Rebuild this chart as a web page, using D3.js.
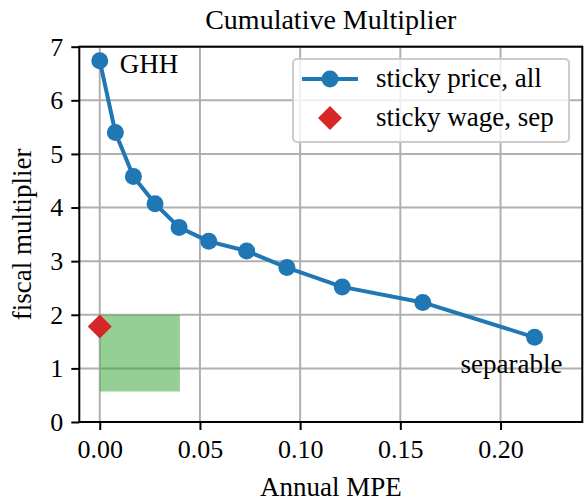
<!DOCTYPE html>
<html><head><meta charset="utf-8">
<script src="https://cdn.jsdelivr.net/npm/d3@7"></script>
<style>
html,body{margin:0;padding:0;background:#fff;}
svg text{font-family:"Liberation Serif","DejaVu Serif",serif;fill:#000;}
</style></head>
<body><svg id="c" width="588" height="501"></svg>
<script>
// Data
const mpe = [0.0, 0.0078, 0.0168, 0.0276, 0.0396, 0.0544, 0.0733, 0.0934, 0.1210, 0.1612, 0.2170];
const multiplier = [6.74, 5.40, 4.58, 4.07, 3.63, 3.37, 3.19, 2.88, 2.52, 2.23, 1.58];
const wageMpe = [0.0];
const wageMult = [1.78];
const regionX = [0.0, 0.04];
const regionY = [0.57, 2.0];
const xTicks = [0.00, 0.05, 0.10, 0.15, 0.20];
const yTicks = [0, 1, 2, 3, 4, 5, 6, 7];
const legendLabels = ["sticky price, all", "sticky wage, sep"];
const annotations = ["GHH", "separable"];

const FS = 27, TFS = 26;
const svg = d3.select("#c");
const L = 79.3, R = 582.3, T = 46.7, B = 422;
const x = d3.scaleLinear().domain([-0.0102, 0.2408]).range([L, R]);
const y = d3.scaleLinear().domain([0, 7]).range([B, T]);

// grid
const g = svg.append("g");
g.selectAll(".gx").data(xTicks).join("line")
  .attr("x1", d=>x(d)).attr("x2", d=>x(d)).attr("y1", T).attr("y2", B)
  .attr("stroke", "#b0b0b0").attr("stroke-width", 2);
g.selectAll(".gy").data(yTicks).join("line")
  .attr("y1", d=>y(d)).attr("y2", d=>y(d)).attr("x1", L).attr("x2", R)
  .attr("stroke", "#b0b0b0").attr("stroke-width", 2);

// green region
svg.append("rect")
  .attr("x", x(regionX[0])).attr("width", x(regionX[1]) - x(regionX[0]))
  .attr("y", y(regionY[1])).attr("height", y(regionY[0]) - y(regionY[1]))
  .attr("fill", "#2ca02c").attr("fill-opacity", 0.5);

// line
const pts = mpe.map((d,i)=>[d, multiplier[i]]);
svg.append("path").datum(pts)
  .attr("d", d3.line().x(d=>x(d[0])).y(d=>y(d[1])))
  .attr("fill", "none").attr("stroke", "#1f77b4").attr("stroke-width", 4)
  .attr("stroke-linejoin", "round");
svg.selectAll(".pt").data(pts).join("circle")
  .attr("cx", d=>x(d[0])).attr("cy", d=>y(d[1])).attr("r", 8.5)
  .attr("fill", "#1f77b4");

// diamond
const diamond = s => `M0,${-s}L${s},0L0,${s}L${-s},0Z`;
svg.selectAll(".dm").data(wageMpe).join("path")
  .attr("transform", (d,i)=>`translate(${x(d)},${y(wageMult[i])})`)
  .attr("d", diamond(12)).attr("fill", "#d62728");

// annotations
svg.append("text").attr("x", x(mpe[0]) + 20).attr("y", y(multiplier[0]) + 12)
  .attr("font-size", FS).text(annotations[0]);
svg.append("text").attr("x", x(mpe[10]) - 74).attr("y", y(multiplier[10]) + 36)
  .attr("font-size", FS).text(annotations[1]);

// spines
svg.append("rect").attr("x", L).attr("y", T).attr("width", R-L).attr("height", B-T)
  .attr("fill", "none").attr("stroke", "#000").attr("stroke-width", 2);

// axes
const xa = svg.append("g").attr("transform", `translate(0,${B})`)
  .call(d3.axisBottom(x).tickValues(xTicks).tickFormat(d3.format(".2f")).tickSize(8).tickPadding(10));
const ya = svg.append("g").attr("transform", `translate(${L},0)`)
  .call(d3.axisLeft(y).tickValues(yTicks).tickFormat(d3.format("d")).tickSize(8).tickPadding(8));
[xa, ya].forEach(a => {
  a.select(".domain").remove();
  a.selectAll("line").attr("stroke", "#000").attr("stroke-width", 2);
  a.selectAll("text").attr("font-size", TFS).attr("font-family", "Liberation Serif");
});

// labels
svg.append("text").attr("x", (L+R)/2).attr("y", 29).attr("text-anchor", "middle")
  .attr("font-size", 28).text("Cumulative Multiplier");
svg.append("text").attr("x", (L+R)/2).attr("y", 496).attr("text-anchor", "middle")
  .attr("font-size", FS).text("Annual MPE");
svg.append("text").attr("transform", `translate(31,${(T+B)/2}) rotate(-90)`)
  .attr("text-anchor", "middle").attr("font-size", FS).text("fiscal multiplier");

// legend
const lg = svg.append("g");
lg.append("rect").attr("x", 293).attr("y", 59).attr("width", 276).attr("height", 83)
  .attr("rx", 4).attr("fill", "#fff").attr("fill-opacity", 0.8)
  .attr("stroke", "#cccccc").attr("stroke-width", 2);
lg.append("line").attr("x1", 302).attr("x2", 358).attr("y1", 79).attr("y2", 79)
  .attr("stroke", "#1f77b4").attr("stroke-width", 4);
lg.append("circle").attr("cx", 330).attr("cy", 79).attr("r", 8.5).attr("fill", "#1f77b4");
lg.append("path").attr("transform", "translate(330,118)").attr("d", diamond(12)).attr("fill", "#d62728");
lg.selectAll(".lt").data(legendLabels).join("text")
  .attr("x", 376).attr("y", (d,i)=>87 + i*39).attr("font-size", FS).text(d=>d);
</script></body></html>
